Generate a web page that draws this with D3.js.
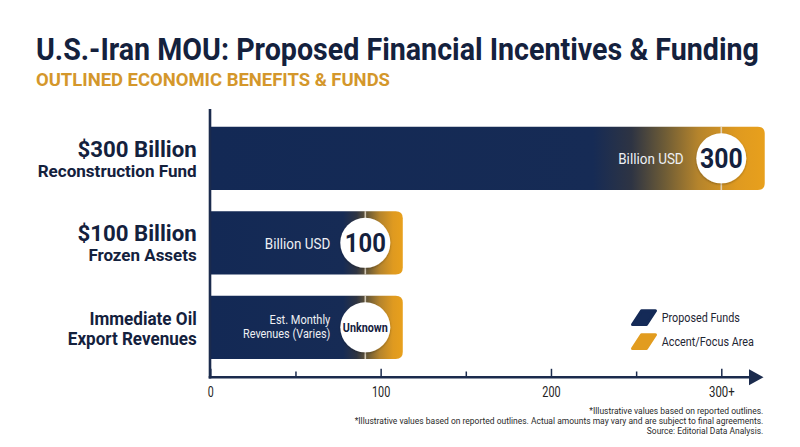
<!DOCTYPE html>
<html><head><meta charset="utf-8">
<script src="https://cdn.jsdelivr.net/npm/d3@7"></script>
<style>html,body{margin:0;padding:0;background:#fff;} svg{display:block;font-family:Roboto,"Noto Sans",sans-serif;}</style>
</head><body><svg id="c" width="800" height="447"></svg>
<script>
const categories = ["$300 Billion", "$100 Billion", "Immediate Oil"];
const subLabels = ["Reconstruction Fund", "Frozen Assets", "Export Revenues"];
const amounts = [300, 100, null];
const amountLabels = ["300", "100", "Unknown"];
const badgeAt = [300, 91, 91];
const barEnds = [325.5, 113, 113];
const unitLabels = [["Billion USD"], ["Billion USD"], ["Est. Monthly", "Revenues (Varies)"]];
const tickValues = [0, 50, 100, 150, 200, 250, 300];
const tickLabels = ["0", "", "100", "", "200", "", "300+"];
const legendLabels = ["Proposed Funds", "Accent/Focus Area"];
const title = "U.S.-Iran MOU: Proposed Financial Incentives & Funding";
const subtitle = "OUTLINED ECONOMIC BENEFITS & FUNDS";
const footnotes = [
  "*Illustrative values based on reported outlines.",
  "*Illustrative values based on reported outlines. Actual amounts may vary and are subject to final agreements.",
  "Source: Editorial Data Analysis."
];

const NAVY = "#142a57", GOLD = "#e29c1f", INK = "#14213d";
const svg = d3.select("#c");

// condense a text horizontally to a target width using a transform (keeps real bounding boxes)
function cond(sel, wFn) {
  sel.each(function (d, i) {
    const t = d3.select(this);
    const w = typeof wFn === "function" ? wFn(d, i) : wFn;
    const nat = this.getComputedTextLength();
    if (!nat || !w) return;
    const k = w / nat;
    const tx = +t.attr("x") || 0, ty = +t.attr("y") || 0;
    t.attr("x", 0).attr("y", 0).attr("transform", `translate(${tx},${ty}) scale(${k},1)`);
  });
  return sel;
}

const x = d3.scaleLinear().domain([0, 300]).range([210.3, 721.3]);
const y = d3.scaleBand().domain(categories).range([116.1, 369.6]).paddingInner(0.25).paddingOuter(0.125);

// gradient + shadow
const defs = svg.append("defs");
const grad = defs.append("linearGradient").attr("id", "barGrad").attr("x1", 0).attr("x2", 1).attr("y1", 0).attr("y2", 0);
[[0, "#132955"], [0.69, "#162b55"], [0.76, "#2e3443"], [0.82, "#6e5c36"], [0.88, "#b5842c"], [0.95, "#df9a20"], [1, "#e8a01c"]]
  .forEach(s => grad.append("stop").attr("offset", s[0]).attr("stop-color", s[1]));
const sh = defs.append("filter").attr("id", "sh").attr("x", "-30%").attr("y", "-30%").attr("width", "160%").attr("height", "160%");
sh.append("feDropShadow").attr("dx", 0).attr("dy", 1).attr("stdDeviation", 1.2).attr("flood-color", "#000").attr("flood-opacity", 0.3);

// title
cond(svg.append("text").attr("x", 36).attr("y", 60).attr("font-size", 30.5).attr("font-weight", 700).attr("fill", INK).text(title), 723);
cond(svg.append("text").attr("x", 36).attr("y", 86).attr("font-size", 18.8).attr("font-weight", 700).attr("fill", "#d4972b").text(subtitle), 354);

// bars
function barPath(x0, x1, y0, h, r) {
  return `M${x0},${y0}H${x1 - r}Q${x1},${y0} ${x1},${y0 + r}V${y0 + h - r}Q${x1},${y0 + h} ${x1 - r},${y0 + h}H${x0}Z`;
}
const bars = svg.append("g").selectAll("g").data(categories).join("g");
bars.append("path")
  .attr("d", (d, i) => barPath(x(0), x(barEnds[i]), y(d), y.bandwidth(), 7))
  .attr("fill", "url(#barGrad)");
bars.append("line")
  .attr("x1", (d, i) => x(badgeAt[i])).attr("x2", (d, i) => x(badgeAt[i]))
  .attr("y1", d => y(d)).attr("y2", d => y(d) + y.bandwidth())
  .attr("stroke", "#e6dccb").attr("stroke-width", 1.6).attr("opacity", 0.85);
bars.append("circle")
  .attr("cx", (d, i) => x(badgeAt[i])).attr("cy", d => y(d) + y.bandwidth() / 2)
  .attr("r", 25).attr("fill", "#fff").attr("filter", "url(#sh)");

// value text in badge
const valSizes = [27, 26, 12.5], valWidths = [42.7, 41, 45], valDy = [9.6, 9.6, 4.2];
cond(bars.append("text")
  .attr("x", (d, i) => x(badgeAt[i])).attr("y", (d, i) => y(d) + y.bandwidth() / 2 + valDy[i])
  .attr("text-anchor", "middle").attr("font-weight", 700).attr("fill", INK)
  .attr("font-size", (d, i) => valSizes[i])
  .text((d, i) => amountLabels[i]), (d, i) => valWidths[i]);

// unit text
const unitW = { "Billion USD": 65.5, "Est. Monthly": 60.7, "Revenues (Varies)": 87.3 };
bars.each(function (d, i) {
  const g = d3.select(this), cy = y(d) + y.bandwidth() / 2, lines = unitLabels[i];
  const single = lines.length === 1;
  lines.forEach((t, j) => {
    cond(g.append("text")
      .attr("x", x(badgeAt[i]) - (i === 0 ? 37.6 : 35))
      .attr("y", single ? cy + 5.7 : cy - 3 + j * 13.7)
      .attr("text-anchor", "end").attr("fill", "#eef0f4")
      .attr("font-size", single ? 14.5 : 12.2).text(t), unitW[t]);
  });
});

// category labels
const mainSize = [22.5, 22.5, 18], subSize = [17.3, 17.3, 18];
const mainW = [119.3, 119.3, 107.3], subW = [159, 108.3, 129];
const mainDy = [-1.6, -1.6, -2.4], subDy = [18.4, 18.4, 17.6];
const lab = svg.append("g").selectAll("g").data(categories).join("g");
cond(lab.append("text").attr("x", 196.7).attr("y", (d, i) => y(d) + y.bandwidth() / 2 + mainDy[i])
  .attr("text-anchor", "end").attr("font-weight", 700).attr("fill", INK)
  .attr("font-size", (d, i) => mainSize[i]).text(d => d), (d, i) => mainW[i]);
cond(lab.append("text").attr("x", 196.7).attr("y", (d, i) => y(d) + y.bandwidth() / 2 + subDy[i])
  .attr("text-anchor", "end").attr("font-weight", 700).attr("fill", INK)
  .attr("font-size", (d, i) => subSize[i]).text((d, i) => subLabels[i]), (d, i) => subW[i]);

// axes
const AX = "#1b2b4d", axY = 377.3;
svg.append("line").attr("x1", 210).attr("x2", 210).attr("y1", 109).attr("y2", axY + 1.3).attr("stroke", AX).attr("stroke-width", 2.6);
const axis = d3.axisBottom(x).tickValues(tickValues).tickFormat((d, i) => tickLabels[i])
  .tickSizeInner(-8).tickSizeOuter(0).tickPadding(10);
const ga = svg.append("g").attr("transform", `translate(0,${axY})`).call(axis);
ga.select(".domain").remove();
ga.selectAll(".tick line").attr("y2", (d, i) => tickLabels[i] ? -8.5 : -5.8).attr("stroke", AX).attr("stroke-width", 1.5);
const tickW = { "0": 6, "100": 18.3, "200": 18.3, "300+": 25.7 };
ga.selectAll(".tick text").attr("font-size", 14).attr("fill", "#222").attr("font-family", "Roboto, sans-serif")
  .each(function (d, i) { if (tickLabels[i]) cond(d3.select(this), tickW[tickLabels[i]]); });
svg.append("line").attr("x1", 208.7).attr("x2", 752).attr("y1", axY).attr("y2", axY).attr("stroke", AX).attr("stroke-width", 2.6);
svg.append("path").attr("d", `M749,${axY - 8}L763.5,${axY}L749,${axY + 8}Z`).attr("fill", AX);

// legend
const legColors = [NAVY, GOLD];
const leg = svg.append("g").selectAll("g").data(legendLabels).join("g")
  .attr("transform", (d, i) => `translate(0,${i * 24})`);
leg.append("path").attr("d", "M641.5,310.8L655.5,310.8L646.5,324.5L632.5,324.5Z")
  .attr("fill", (d, i) => legColors[i]).attr("stroke", (d, i) => legColors[i])
  .attr("stroke-width", 3).attr("stroke-linejoin", "round");
cond(leg.append("text").attr("x", 661.7).attr("y", 322.3).attr("font-size", 13.5).attr("fill", "#1e2533")
  .text(d => d), (d, i) => i === 0 ? 78.3 : 92.3);

// footnotes
const fnW = [174, 409, 116.6];
cond(svg.append("g").selectAll("text").data(footnotes).join("text")
  .attr("x", 763.3).attr("y", (d, i) => 414 + i * 10)
  .attr("text-anchor", "end").attr("font-size", 9.5).attr("fill", "#2a2a2a")
  .text(d => d), (d, i) => fnW[i]);
</script></body></html>
